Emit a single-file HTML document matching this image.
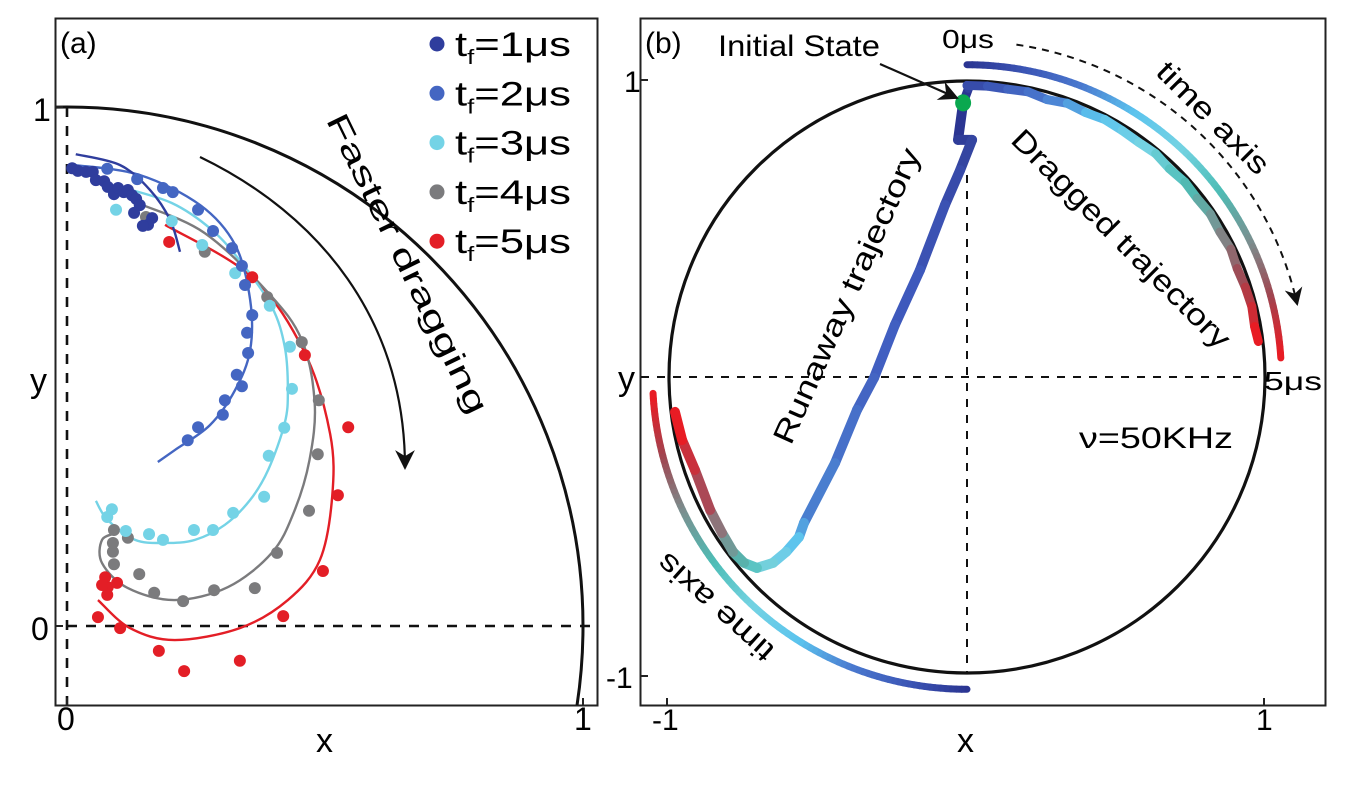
<!DOCTYPE html>
<html><head><meta charset="utf-8"><style>
html,body{margin:0;padding:0;background:#fff;width:1347px;height:805px;overflow:hidden;}
svg{display:block;font-family:"Liberation Sans",sans-serif;}
</style></head><body>
<svg id="fig" width="1347" height="805" viewBox="0 0 1347 805">
<defs>
<clipPath id="clipA"><rect x="56" y="19" width="541" height="686"/></clipPath>
<clipPath id="clipB"><rect x="641" y="19" width="684" height="686"/></clipPath>
<marker id="ah" viewBox="0 0 10 10" refX="9" refY="5" markerWidth="9" markerHeight="9" orient="auto"><path d="M0,0 L10,5 L0,10 L3,5 z" fill="#111"/></marker>
</defs>
<g id="panelA">
<rect x="55.5" y="18.5" width="542" height="687" fill="none" stroke="#222" stroke-width="2"/>
<g id="aClip" clip-path="url(#clipA)"></g>
<text x="60" y="53" font-size="30">(a)</text>
<text x="33" y="121" font-size="32">1</text>
<text x="30" y="392" font-size="34">y</text>
<text x="31" y="640" font-size="32">0</text>
<text x="57" y="730" font-size="32">0</text>
<text x="316" y="752" font-size="34">x</text>
<text x="574" y="730" font-size="32">1</text>
<path d="M56,107 h7 M56,626 h7 M67,705 v-7 M583,705 v-7" stroke="#222" stroke-width="2"/>
<path d="M200,157 C320,215 405,320 405,468" fill="none" stroke="#111" stroke-width="2.2" marker-end="url(#ah)"/>
<text transform="translate(398,268) rotate(64)" text-anchor="middle" font-size="31" textLength="330" lengthAdjust="spacingAndGlyphs">Faster dragging</text>
<g id="legend"></g>
</g>
<g id="panelB">
<rect x="640.5" y="18.5" width="685" height="687" fill="none" stroke="#222" stroke-width="2"/>
<g id="bClip" clip-path="url(#clipB)"></g>
<text x="645" y="53" font-size="30">(b)</text>
<text x="718" y="56" font-size="30" textLength="162" lengthAdjust="spacingAndGlyphs">Initial State</text>
<line x1="880" y1="64" x2="957" y2="98" stroke="#111" stroke-width="2.2" marker-end="url(#ah)"/>
<text x="942" y="48" font-size="26" textLength="52" lengthAdjust="spacingAndGlyphs">0μs</text>
<text x="1264" y="390" font-size="26" textLength="58" lengthAdjust="spacingAndGlyphs">5μs</text>
<text x="1079" y="448" font-size="30" textLength="154" lengthAdjust="spacingAndGlyphs">ν=50KHz</text>
<text transform="translate(1206,125) rotate(45)" text-anchor="middle" font-size="30" textLength="146" lengthAdjust="spacingAndGlyphs">time axis</text>
<text transform="translate(1114,246) rotate(45)" text-anchor="middle" font-size="30" textLength="296" lengthAdjust="spacingAndGlyphs">Dragged trajectory</text>
<text transform="translate(856,300) rotate(-66)" text-anchor="middle" font-size="30" textLength="320" lengthAdjust="spacingAndGlyphs">Runaway trajectory</text>
<text transform="translate(722,600) rotate(222)" text-anchor="middle" font-size="30" textLength="146" lengthAdjust="spacingAndGlyphs">time axis</text>
<text x="624" y="92" font-size="30">1</text>
<text x="618" y="390" font-size="34">y</text>
<text x="606" y="688" font-size="30">-1</text>
<text x="652" y="730" font-size="30">-1</text>
<text x="1256" y="730" font-size="30">1</text>
<text x="957" y="752" font-size="34">x</text>
<path d="M641,80 h7 M641,676 h7 M667,705 v-7 M1264,705 v-7" stroke="#222" stroke-width="2"/>
</g>
</svg>
<script>
// ---------- Panel (a) data ----------
const seriesLabels = ["t_f=1μs","t_f=2μs","t_f=3μs","t_f=4μs","t_f=5μs"];
const tf1X = [.010,.021,.037,.050,.056,.072,.079,.091,.099,.110,.118,.126,.134,.141,.130,.165,.157,.147];
const tf1Y = [.882,.877,.875,.875,.859,.857,.846,.832,.844,.836,.840,.830,.823,.811,.796,.786,.773,.771];
const tf2X = [.078,.136,.186,.205,.254,.283,.320,.339,.345,.359,.349,.351,.329,.339,.306,.302,.254,.234];
const tf2Y = [.881,.861,.844,.836,.802,.761,.728,.694,.657,.599,.565,.526,.484,.462,.435,.407,.383,.358];
const tf3X = [.095,.203,.262,.326,.393,.432,.436,.421,.391,.382,.322,.283,.246,.186,.159,.114,.087,.078];
const tf3Y = [.802,.780,.734,.680,.617,.538,.457,.382,.328,.249,.218,.185,.185,.166,.177,.183,.225,.210];
const tf4X = [.153,.267,.388,.455,.488,.486,.469,.407,.364,.285,.225,.169,.140,.118,.091,.089,.089,.091];
const tf4Y = [.788,.721,.634,.547,.435,.331,.222,.141,.073,.069,.048,.064,.100,.170,.185,.160,.143,.119];
const tf5X = [.198,.359,.461,.545,.525,.496,.419,.060,.103,.178,.227,.335,.074,.079,.097,.078,.068];
const tf5Y = [.740,.672,.522,.383,.252,.106,.019,.017,-.004,-.048,-.087,-.067,.094,.075,.083,.060,.079];
const fit1X = [.017,.103,.161,.200,.219];
const fit1Y = [.909,.888,.840,.782,.721];
const fit2X = [.016,.141,.258,.326,.355,.355,.326,.277,.209,.176];
const fit2Y = [.888,.869,.811,.734,.628,.532,.455,.387,.339,.316];
const fit3X = [.103,.203,.281,.339,.397,.422,.428,.422,.390,.355,.306,.248,.190,.132,.079,.056];
const fit3Y = [.846,.815,.763,.699,.615,.538,.455,.391,.301,.243,.195,.166,.160,.166,.204,.241];
const fit4X = [.147,.267,.390,.455,.480,.470,.440,.397,.312,.209,.118,.068,.068,.097];
const fit4Y = [.811,.757,.642,.551,.430,.320,.220,.141,.075,.050,.073,.121,.166,.179];
const fit5X = [.190,.359,.461,.510,.514,.490,.428,.335,.209,.122,.060];
const fit5Y = [.773,.672,.526,.370,.250,.127,.050,-.004,-.027,-.004,.050];

// ---------- Panel (b) data ----------
const draggedAngles = [90,86,82,78,74,70,66,62,58,54,50,46,42,38,34,30,26,22,18,14,10,7];
const draggedRadius = [.985,.985,.982,.985,.975,.984,.978,.985,.982,.98,.985,.978,.984,.98,.985,.98,.985,.978,.982,.985,.98,.985];
const runawayX = [-.013,-.030,.017,-.023,-.074,-.158,-.242,-.312,-.369,-.443,-.547,-.564,-.607,-.651,-.705,-.748,-.785,-.822,-.862,-.913,-.956,-.980];
const runawayY = [.926,.801,.801,.699,.581,.361,.176,-.003,-.111,-.291,-.493,-.541,-.591,-.628,-.645,-.628,-.591,-.527,-.449,-.314,-.213,-.118];
const timeArcUpperStart = 90, timeArcUpperEnd = 3.5;
const timeArcLowerStart = 270, timeArcLowerEnd = 183;
const timeArcRadius = 1.055;
const guideArcStart = 81.6, guideArcEnd = 12.5, guideArcRadius = 1.135;
const initialState = [-0.013, 0.926];

const NS = "http://www.w3.org/2000/svg";
function mk(tag, attrs, parent){const e=document.createElementNS(NS,tag);for(const k in attrs)e.setAttribute(k,attrs[k]);parent.appendChild(e);return e;}
const xa = v => 67 + 516*v, ya = v => 626 - 519*v;
const xb = v => 967 + 298*v, yb = v => 377 - 296*v;
const colorsA = ["#2f3d9d","#4466c2","#74d3e6","#7b7b7d","#e31e26"];

function smoothPath(px, py){
  let d = `M${px[0]},${py[0]}`;
  for(let i=0;i<px.length-1;i++){
    const p0x=px[Math.max(i-1,0)],p0y=py[Math.max(i-1,0)];
    const p3x=px[Math.min(i+2,px.length-1)],p3y=py[Math.min(i+2,px.length-1)];
    const c1x=px[i]+(px[i+1]-p0x)/6, c1y=py[i]+(py[i+1]-p0y)/6;
    const c2x=px[i+1]-(p3x-px[i])/6, c2y=py[i+1]-(p3y-py[i])/6;
    d+=` C${c1x},${c1y} ${c2x},${c2y} ${px[i+1]},${py[i+1]}`;
  }
  return d;
}

// Panel a
const gA = document.getElementById('aClip');
const circA = mk('ellipse',{cx:xa(0),cy:ya(0),rx:516,ry:519,fill:'none',stroke:'#111','stroke-width':3},gA);


const dashV = mk('line',{x1:xa(0),y1:ya(1),x2:xa(0),y2:706,stroke:'#111','stroke-width':2.6,'stroke-dasharray':'10,9'},gA);


const dashH = mk('line',{x1:xa(0),y1:ya(0),x2:598,y2:ya(0),stroke:'#111','stroke-width':2.6,'stroke-dasharray':'10,9'},gA);



const fitsX=[fit1X,fit2X,fit3X,fit4X,fit5X], fitsY=[fit1Y,fit2Y,fit3Y,fit4Y,fit5Y];
const ptsX=[tf1X,tf2X,tf3X,tf4X,tf5X], ptsY=[tf1Y,tf2Y,tf3Y,tf4Y,tf5Y];
for(let s=4;s>=0;s--){
  const p = mk('path',{d:smoothPath(fitsX[s].map(xa),fitsY[s].map(ya)),fill:'none',stroke:colorsA[s],'stroke-width':2.4},gA);
  
  
}
for(let s=4;s>=0;s--){
  for(let i=0;i<ptsX[s].length;i++){
    const c = mk('circle',{cx:xa(ptsX[s][i]),cy:ya(ptsY[s][i]),r:6,fill:colorsA[s]},gA);
    
    
  }
}
const lg = document.getElementById('legend');
seriesLabels.forEach((lab,i)=>{
  const y = 44 + 49.3*i;
  const g = mk('g',{},lg);
  
  
  mk('circle',{cx:437,cy:y,r:7.5,fill:colorsA[i]},g);
  const t = mk('text',{x:455,y:y+12,'font-size':34,textLength:116,lengthAdjust:'spacingAndGlyphs'},g);
  t.innerHTML = 't<tspan font-size="20" dy="8">f</tspan><tspan dy="-8">=' + (i+1) + 'μs</tspan>';
});

// Panel b
const gB = document.getElementById('bClip');
const circB = mk('ellipse',{cx:xb(0),cy:yb(0),rx:298,ry:296,fill:'none',stroke:'#111','stroke-width':3.2},gB);


const bH = mk('line',{x1:641,y1:yb(0),x2:1262,y2:yb(0),stroke:'#111','stroke-width':2,'stroke-dasharray':'8,8'},gB);


const bV = mk('line',{x1:xb(0),y1:175,x2:xb(0),y2:yb(-1),stroke:'#111','stroke-width':2,'stroke-dasharray':'8,8'},gB);



const palette = ['#2b3592','#3b55b5','#4a79cf','#5bc3ee','#74d3e3','#4dbdb5','#7a9090','#a04550','#e81c24'];
const paletteRun = ['#2b3592','#33449f','#3a4fb0','#3f5cc0','#4566c4','#4a7fd0','#5bc3ee','#7ad3e3','#4dbdb5','#7a9090','#b04050','#e81c24'];
function hx(c){return [1,3,5].map(i=>parseInt(c.substr(i,2),16));}
function colorAt(t,pal){
  const f=Math.max(0,Math.min(1,t))*(pal.length-1);const i=Math.min(Math.floor(f),pal.length-2);const u=f-i;
  const a=hx(pal[i]),b=hx(pal[i+1]);
  return 'rgb('+a.map((v,k)=>Math.round(v+(b[k]-v)*u)).join(',')+')';
}
function gradLine(xs,ys,pal,w,name,parent){
  const g = mk('g',{},parent);
  
  
  const n=xs.length;
  for(let i=0;i<n-1;i++){
    mk('line',{x1:xs[i],y1:ys[i],x2:xs[i+1],y2:ys[i+1],stroke:colorAt(i/(n-2),pal),'stroke-width':w,'stroke-linecap':'round'},g);
  }
}
function arcPts(a0,a1,r,steps){
  const X=[],Y=[];
  for(let i=0;i<=steps;i++){const a=(a0+(a1-a0)*i/steps)*Math.PI/180;X.push(xb(r*Math.cos(a)));Y.push(yb(r*Math.sin(a)));}
  return [X,Y];
}
let [ux,uy] = arcPts(timeArcUpperStart,timeArcUpperEnd,timeArcRadius,90);
gradLine(ux,uy,palette,7,'time-axis-arc-upper',gB);
let [lx,ly] = arcPts(timeArcLowerStart,timeArcLowerEnd,timeArcRadius,90);
gradLine(lx,ly,palette,7,'time-axis-arc-lower',gB);
const dX=[xb(initialState[0]),xb(0.005)], dY=[yb(initialState[1]),yb(0.975)];
draggedAngles.forEach((a,i)=>{const r=draggedRadius[i];dX.push(xb(r*Math.cos(a*Math.PI/180)));dY.push(yb(r*Math.sin(a*Math.PI/180)));});
gradLine(dX,dY,palette,9,'dragged-trajectory',gB);
gradLine(runawayX.map(xb),runawayY.map(yb),paletteRun,10,'runaway-trajectory',gB);
let [gx,gy] = arcPts(guideArcStart,guideArcEnd,guideArcRadius,60);
let gd='M'+gx[0]+','+gy[0];for(let i=1;i<gx.length;i++)gd+=' L'+gx[i]+','+gy[i];
const ga = mk('path',{d:gd,fill:'none',stroke:'#111','stroke-width':2,'stroke-dasharray':'7,6','marker-end':'url(#ah)'},gB);


const dot = mk('ellipse',{cx:xb(initialState[0]),cy:yb(initialState[1]),rx:8,ry:8.5,fill:'#0aa84f'},gB);


</script>
</body></html>
